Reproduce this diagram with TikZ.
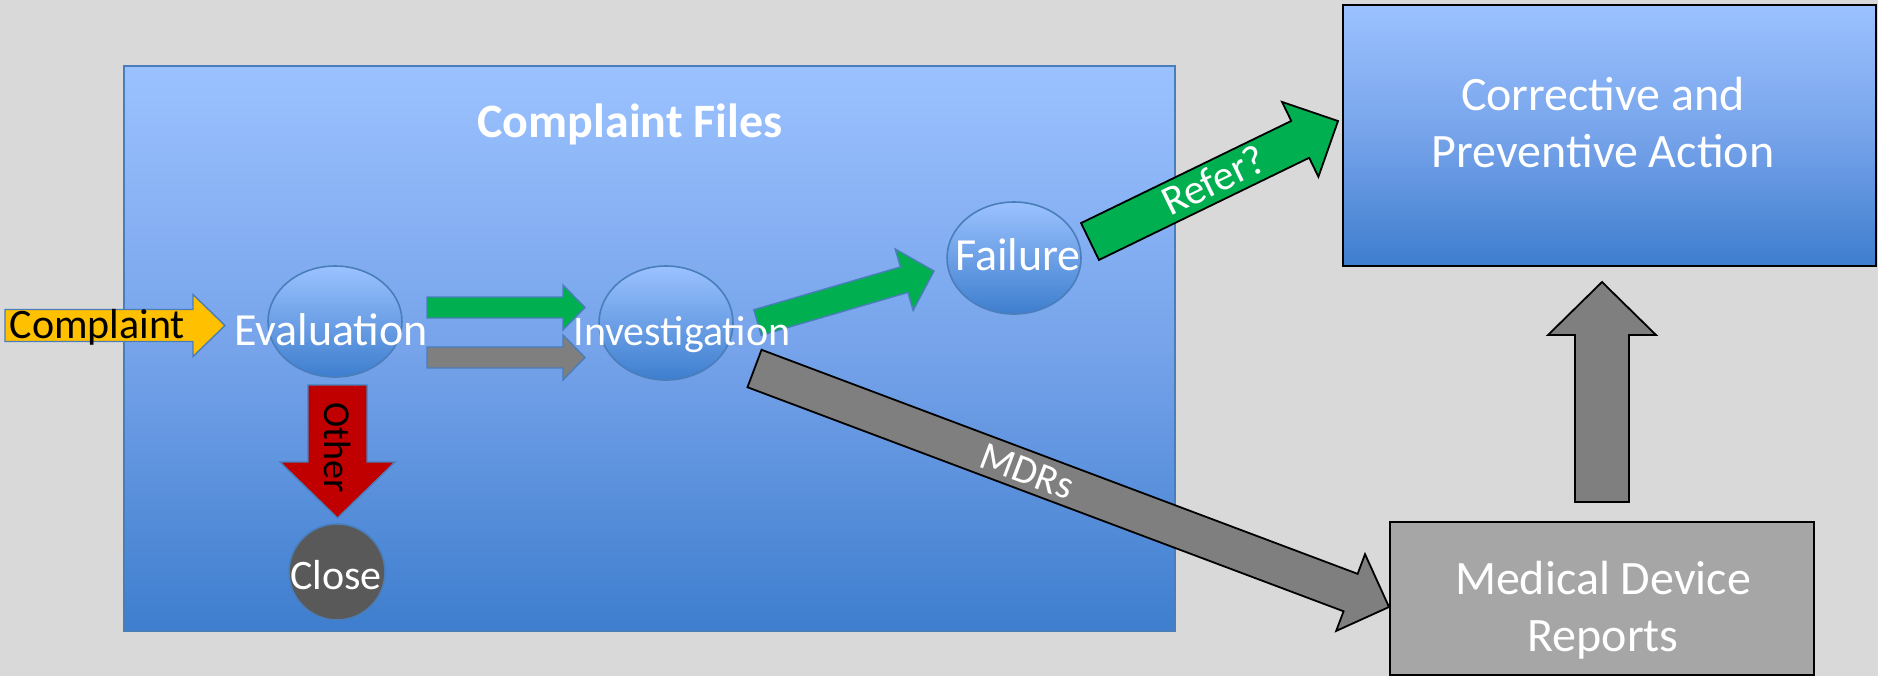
\documentclass[tikz,border=0pt]{standalone}
\usepackage{fontspec}
\setmainfont{Carlito}
\usetikzlibrary{calc,shapes.geometric}

\definecolor{bgcol}{HTML}{D9D9D9}
\definecolor{bluetop}{RGB}{155,194,255}
\definecolor{bluemid}{RGB}{118,163,234}
\definecolor{bluebot}{RGB}{62,126,206}
\definecolor{blueedge}{RGB}{74,126,187}
\definecolor{flowgreen}{HTML}{00B050}
\definecolor{flowgray}{HTML}{7F7F7F}
\definecolor{stopred}{HTML}{C00000}
\definecolor{inyellow}{HTML}{FFC000}
\definecolor{closegray}{HTML}{595959}
\definecolor{mdrgray}{HTML}{A6A6A6}

\tikzset{
  % sizes of the block arrows
  shaft/.store in=\shafthw, headw/.store in=\headhw, headl/.store in=\headlen,
  lblpos/.store in=\lblpos,
  shaft=8pt, headw=16pt, headl=16pt, lblpos=.5,
  filesbox/.style={rectangle, draw=blueedge, line width=1pt, top color=bluetop,
    bottom color=bluebot, middle color=bluemid, inner sep=0},
  capabox/.style={rectangle, draw=black, line width=1pt, top color=bluetop,
    bottom color=bluebot, middle color=bluemid, inner sep=0},
  mdrbox/.style={rectangle, draw=black, line width=1pt, fill=mdrgray, inner sep=0},
  bubble/.style={ellipse, draw=blueedge, line width=.8pt, top color=bluetop,
    bottom color=bluebot, inner sep=0},
  closedot/.style={circle, draw=blueedge, line width=.8pt, fill=closegray, inner sep=0},
  flowarrow/.style={draw=blueedge, line width=.7pt, line join=miter, text=white,
    font=\fontsize{20}{24}\selectfont},
  outarrow/.style={draw=black, line width=.9pt, line join=miter, text=white,
    font=\fontsize{20}{24}\selectfont},
  arrowtxt/.style={inner sep=0, text height=13pt, text depth=0pt},
  steptxt/.style={text=white, anchor=base, inner sep=0, font=\fontsize{23}{27}\selectfont},
  titletxt/.style={text=white, anchor=base, inner sep=0, font=\fontsize{24}{28}\selectfont\bfseries},
  boxtxt/.style={text=white, anchor=base, align=center, inner sep=0,
    font=\fontsize{24}{28.5}\selectfont},
}

% block arrow from #2 to #3 with label #4
\newcommand{\blockarrow}[4][]{%
  \draw[#1] let \p1=($(#3)-(#2)$), \n1={atan2(\y1,\x1)}, \n2={veclen(\x1,\y1)} in
    ($(#2)+(\n1+90:\shafthw)$)
    -- ($(#2)+(\n1:{\n2-\headlen})+(\n1+90:\shafthw)$)
    -- ($(#2)+(\n1:{\n2-\headlen})+(\n1+90:\headhw)$)
    -- (#3)
    -- ($(#2)+(\n1:{\n2-\headlen})+(\n1-90:\headhw)$)
    -- ($(#2)+(\n1:{\n2-\headlen})+(\n1-90:\shafthw)$)
    -- ($(#2)+(\n1-90:\shafthw)$) -- cycle
    ($(#2)!\lblpos!(#3)$) node[rotate=\n1, arrowtxt] {#4};
}

\begin{document}
\begin{tikzpicture}[x=0.5pt, y=-0.5pt]
\useasboundingbox (0,0) rectangle (1878,676);
\fill[bgcol] (0,0) rectangle (1878,676);

% complaint handling area
\node[filesbox, minimum width=525.5pt, minimum height=282.5pt] (files) at (649.5,348.5) {};
\node[titletxt] (title) at (630,137) {Complaint Files};

\node[bubble, minimum width=67pt, minimum height=55.5pt] (eval) at (335,321.5) {};
\node[bubble, minimum width=67pt, minimum height=57pt] (inv) at (666,323) {};
\node[bubble, minimum width=67pt, minimum height=56pt] (fail) at (1014,258) {};
\node[closedot, minimum size=48pt] (close) at (337,572) {};

% boxes on the right
\node[capabox, minimum width=266.5pt, minimum height=130.5pt] (capa) at (1609.5,135.5) {};
\node[mdrbox, minimum width=212pt, minimum height=76.5pt] (mdr) at (1602,598.5) {};

% arrow ends
\coordinate (cmp-a) at (5,325.5);     \coordinate (cmp-b) at (225,325.5);
\coordinate (oth-a) at (337.5,385);   \coordinate (oth-b) at (337.5,518);
\coordinate (ok-a) at (427,307.5);    \coordinate (ok-b) at (585,307.5);
\coordinate (no-a) at (427,357.5);    \coordinate (no-b) at (585,357.5);
\coordinate (fl-a) at (757.5,322.5);  \coordinate (fl-b) at (934,271);
\coordinate (ref-a) at (1090,241.5);  \coordinate (ref-b) at (1338,121);
\coordinate (mdr-a) at (754.5,368.5); \coordinate (mdr-b) at (1389,607);
\coordinate (up-a) at (1602,502);     \coordinate (up-b) at (1602,282);

% arrows
\blockarrow[flowarrow, fill=inyellow, text=black, font=\fontsize{21}{25}\selectfont,
  shaft=8pt, headw=15.5pt, headl=16pt, lblpos=.42]{cmp-a}{cmp-b}{Complaint}
\blockarrow[flowarrow, fill=stopred, text=black, font=\fontsize{19}{23}\selectfont,
  shaft=14.75pt, headw=28.75pt, headl=28pt, lblpos=.47]{oth-a}{oth-b}{Other}
\blockarrow[flowarrow, fill=flowgreen, shaft=5.25pt, headw=11.25pt, headl=11pt]{ok-a}{ok-b}{}
\blockarrow[flowarrow, fill=flowgray, shaft=5.25pt, headw=11.25pt, headl=11pt]{no-a}{no-b}{}
\blockarrow[flowarrow, fill=flowgreen, shaft=6.65pt, headw=16pt, headl=15.5pt]{fl-a}{fl-b}{}
\blockarrow[outarrow, fill=flowgreen, font=\fontsize{21}{25}\selectfont,
  shaft=10.25pt, headw=20.8pt, headl=21pt]{ref-a}{ref-b}{Refer?}
\blockarrow[outarrow, fill=flowgray, shaft=10pt, headw=20.5pt, headl=20.5pt,
  lblpos=.43]{mdr-a}{mdr-b}{MDRs}
\blockarrow[outarrow, fill=flowgray, shaft=13.5pt, headw=27pt, headl=26.5pt]{up-a}{up-b}{}

% texts (base = baseline of the last line)
\node[steptxt] at (331,345) {Evaluation};
\node[steptxt, font=\fontsize{21}{25}\selectfont] at (682,345) {Investigation};
\node[steptxt] at (1018,270) {Failure};
\node[steptxt, font=\fontsize{21}{25}\selectfont] at (336,589) {Close};
\node[boxtxt] at (1603,167) {Corrective and\\Preventive Action};
\node[boxtxt] at (1603,651) {Medical Device\\Reports};
\end{tikzpicture}
\end{document}
